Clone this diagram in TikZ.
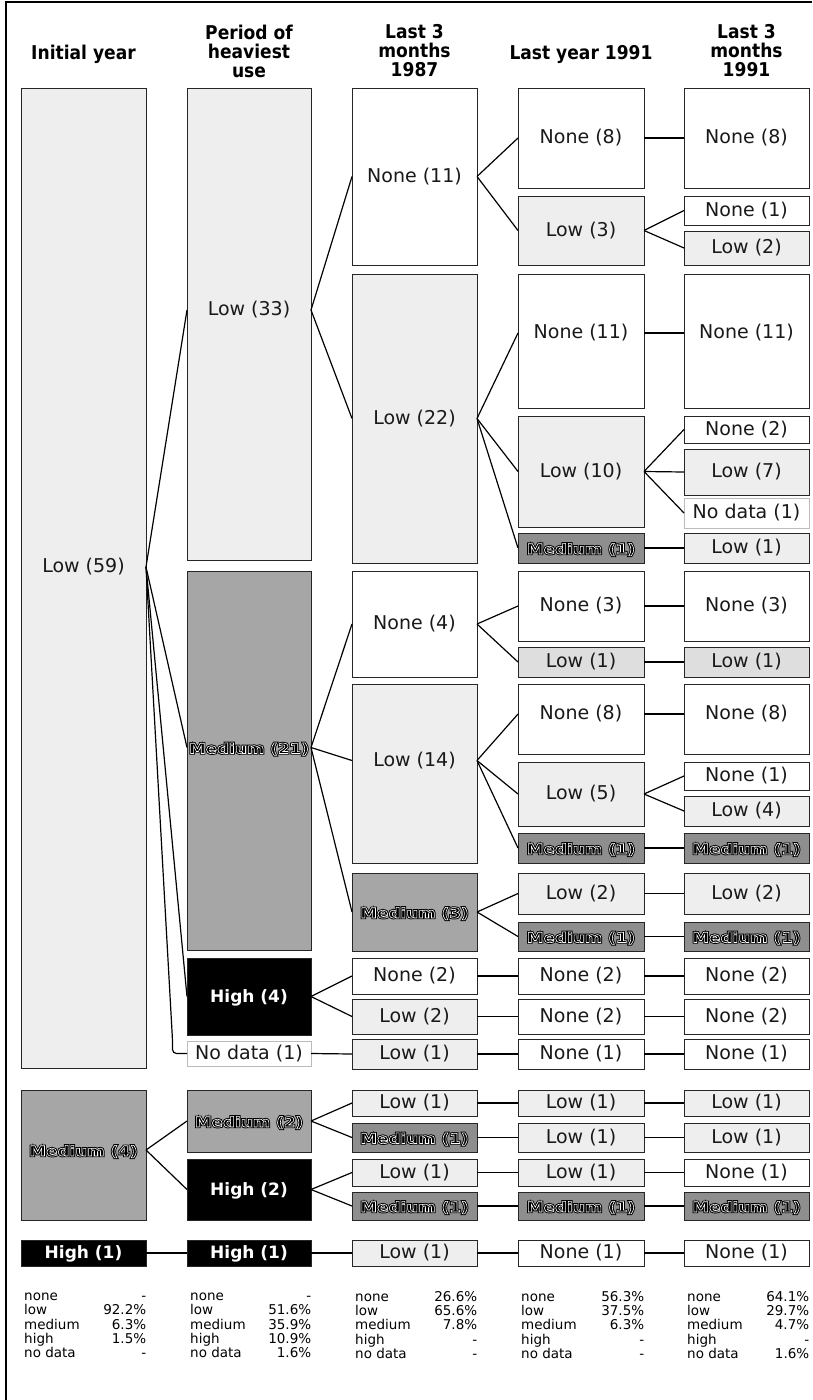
\documentclass[tikz,border=0pt]{standalone}
\usepackage{fontspec}
\setmainfont{DejaVu Sans}
\newfontfamily\medfont[FakeStretch=1.2]{DejaVu Sans}
\newfontfamily\hdfont[FakeStretch=0.9]{DejaVu Sans}
\definecolor{lowc}{HTML}{EEEEEE}
\definecolor{lowdc}{HTML}{DEDEDE}
\definecolor{medc}{HTML}{A6A6A6}
\definecolor{meddc}{HTML}{8E8E8E}
\definecolor{ndc}{HTML}{BBBBBB}
% double-outlined label: black core, white ring, black outer ring
\newcommand\medlab[1]{{\medfont\bfseries\fontsize{14}{15}\selectfont\color{black}%
  \rlap{\special{pdf:literal direct 0 g 2 Tr 2.5 w 0 G}#1}%
  \special{pdf:literal direct 0 g 2 Tr 0.6 w 1 G}#1\special{pdf:literal direct 0 Tr 0 G}}}
\newcommand\bx[8][0]{%
  \pgfmathsetmacro\tdp{2.5+2*#1}%
  \pgfmathsetmacro\bw{#5-#3}\pgfmathsetmacro\bh{#6-#4}%
  \pgfmathsetmacro\bxc{(#3+#5)/2}\pgfmathsetmacro\byc{(#4+#6)/2}%
  \node[#7,text height=14.4pt,text depth=\tdp pt,minimum width=\bw pt,minimum height=\bh pt] (#2) at (\bxc,\byc) {#8};}
\tikzset{
  box/.style={draw=black!85,line width=0.8pt,inner sep=0pt,outer sep=0pt,font=\fontsize{19}{20}\selectfont,text=black!90},
  lowb/.style={box,fill=lowc},
  lowd/.style={box,fill=lowdc},
  noneb/.style={box,fill=white},
  medb/.style={box,fill=medc},
  medd/.style={box,fill=meddc},
  highb/.style={box,fill=black,text=white,font=\bfseries\fontsize{17}{18}\selectfont},
  ndb/.style={box,fill=white,draw=ndc},
  conn/.style={line width=1.2pt,black},
  hdr/.style={font=\hdfont\bfseries\fontsize{19}{19}\selectfont,align=center,inner sep=0pt},
  stat/.style={anchor=north west,inner sep=0pt,font=\fontsize{13.5}{13.5}\selectfont}
}
\begin{document}
\begin{tikzpicture}[x=1pt,y=-1pt]
\useasboundingbox[fill=white] (0,0) rectangle (812,1400);
\draw[line width=2pt] (6,1400) -- (6,2) -- (812,2);
% headers
\node[hdr] (h1) at (83.5,54.2) {Initial year};
\node[hdr] (h2) at (249,51) {Period of\\heaviest\\use};
\node[hdr] (h3) at (414.5,51) {Last 3\\months\\1987};
\node[hdr] (h4) at (581,54.2) {Last year 1991};
\node[hdr] (h5) at (746.5,51) {Last 3\\months\\1991};
% column 1
\bx[11]{a1}{21}{88}{146}{1068}{lowb}{Low (59)}
\bx[5]{a2}{21}{1090}{146}{1220}{medb}{\medlab{Medium (4)}}
\bx{a3}{21}{1240}{146}{1266}{highb}{High (1)}
% column 2
\bx[14]{b1}{187}{88}{311}{560}{lowb}{Low (33)}
\bx[13]{b2}{187}{571}{311}{950}{medb}{\medlab{Medium (21)}}
\bx{b3}{187}{958}{311}{1035}{highb}{High (4)}
\bx{b4}{187}{1041}{311}{1066}{ndb}{No data (1)}
\bx{b5}{187}{1090}{311}{1152}{medb}{\medlab{Medium (2)}}
\bx{b6}{187}{1159}{311}{1220}{highb}{High (2)}
\bx{b7}{187}{1240}{311}{1266}{highb}{High (1)}
% column 3
\bx{c1}{352}{88}{477}{265}{noneb}{None (11)}
\bx{c2}{352}{274}{477}{563}{lowb}{Low (22)}
\bx{c3}{352}{571}{477}{677}{noneb}{None (4)}
\bx[13]{c4}{352}{684}{477}{863}{lowb}{Low (14)}
\bx{c5}{352}{873}{477}{951}{medb}{\medlab{Medium (3)}}
\bx{c6}{352}{958}{477}{994}{noneb}{None (2)}
\bx{c7}{352}{999}{477}{1034}{lowb}{Low (2)}
\bx{c8}{352}{1039}{477}{1069}{lowb}{Low (1)}
\bx{c9}{352}{1090}{477}{1116}{lowb}{Low (1)}
\bx{c10}{352}{1123}{477}{1152}{medd}{\medlab{Medium (1)}}
\bx{c11}{352}{1159}{477}{1186}{lowb}{Low (1)}
\bx{c12}{352}{1192}{477}{1220}{medd}{\medlab{Medium (1)}}
\bx{c13}{352}{1240}{477}{1266}{lowb}{Low (1)}
% column 4
\bx{d1}{518}{88}{644}{188}{noneb}{None (8)}
\bx{d2}{518}{196}{644}{265}{lowb}{Low (3)}
\bx[8]{d3}{518}{274}{644}{408}{noneb}{None (11)}
\bx{d4}{518}{416}{644}{527}{lowb}{Low (10)}
\bx{d5}{518}{533}{644}{563}{medd}{\medlab{Medium (1)}}
\bx{d6}{518}{571}{644}{641}{noneb}{None (3)}
\bx{d7}{518}{647}{644}{677}{lowd}{Low (1)}
\bx[5]{d8}{518}{684}{644}{754}{noneb}{None (8)}
\bx{d9}{518}{762}{644}{826}{lowb}{Low (5)}
\bx{d10}{518}{833}{644}{863}{medd}{\medlab{Medium (1)}}
\bx{d11}{518}{873}{644}{914}{lowb}{Low (2)}
\bx{d12}{518}{922}{644}{951}{medd}{\medlab{Medium (1)}}
\bx{d13}{518}{958}{644}{994}{noneb}{None (2)}
\bx{d14}{518}{999}{644}{1034}{noneb}{None (2)}
\bx{d15}{518}{1039}{644}{1069}{noneb}{None (1)}
\bx{d16}{518}{1090}{644}{1116}{lowb}{Low (1)}
\bx{d17}{518}{1123}{644}{1152}{lowb}{Low (1)}
\bx{d18}{518}{1159}{644}{1186}{lowb}{Low (1)}
\bx{d19}{518}{1192}{644}{1220}{medd}{\medlab{Medium (1)}}
\bx{d20}{518}{1240}{644}{1266}{noneb}{None (1)}
% column 5
\bx{e1}{684}{88}{809}{188}{noneb}{None (8)}
\bx{e2}{684}{196}{809}{225}{noneb}{None (1)}
\bx{e3}{684}{231}{809}{265}{lowb}{Low (2)}
\bx[8]{e4}{684}{274}{809}{408}{noneb}{None (11)}
\bx{e5}{684}{416}{809}{443}{noneb}{None (2)}
\bx{e6}{684}{449}{809}{495}{lowb}{Low (7)}
\bx{e7}{684}{498}{809}{528}{ndb}{No data (1)}
\bx{e8}{684}{533}{809}{563}{lowb}{Low (1)}
\bx{e9}{684}{571}{809}{641}{noneb}{None (3)}
\bx{e10}{684}{647}{809}{677}{lowd}{Low (1)}
\bx[5]{e11}{684}{684}{809}{754}{noneb}{None (8)}
\bx{e12}{684}{762}{809}{790}{noneb}{None (1)}
\bx{e13}{684}{796}{809}{826}{lowb}{Low (4)}
\bx{e14}{684}{833}{809}{863}{medd}{\medlab{Medium (1)}}
\bx{e15}{684}{873}{809}{914}{lowb}{Low (2)}
\bx{e16}{684}{922}{809}{951}{medd}{\medlab{Medium (1)}}
\bx{e17}{684}{958}{809}{994}{noneb}{None (2)}
\bx{e18}{684}{999}{809}{1034}{noneb}{None (2)}
\bx{e19}{684}{1039}{809}{1069}{noneb}{None (1)}
\bx{e20}{684}{1090}{809}{1116}{lowb}{Low (1)}
\bx{e21}{684}{1123}{809}{1152}{lowb}{Low (1)}
\bx{e22}{684}{1159}{809}{1186}{noneb}{None (1)}
\bx{e23}{684}{1192}{809}{1220}{medd}{\medlab{Medium (1)}}
\bx{e24}{684}{1240}{809}{1266}{noneb}{None (1)}
% connectors with shifted anchors
\draw[conn] ([yshift=11pt]a1.east) -- ([yshift=14pt]b1.west);
\draw[conn] ([yshift=11pt]a1.east) -- ([yshift=13pt]b2.west);
\draw[conn] ([yshift=11pt]a1.east) -- (b3.west);
\coordinate (ndk) at (172.5,1040);
\draw[conn,rounded corners=4pt] ([yshift=11pt]a1.east) -- (ndk) -- (ndk |- b4.west) -- (b4.west);
\draw[conn] ([yshift=14pt]b1.east) -- (c1.west);
\draw[conn] ([yshift=14pt]b1.east) -- (c2.west);
\draw[conn] ([yshift=13pt]b2.east) -- (c3.west);
\draw[conn] ([yshift=13pt]b2.east) -- ([yshift=13pt]c4.west);
\draw[conn] ([yshift=13pt]b2.east) -- (c5.west);
\draw[conn] (c2.east) -- ([yshift=8pt]d3.west);
\draw[conn] ([yshift=8pt]d3.east) -- ([yshift=8pt]e4.west);
\draw[conn] ([yshift=13pt]c4.east) -- ([yshift=5pt]d8.west);
\draw[conn] ([yshift=13pt]c4.east) -- (d9.west);
\draw[conn] ([yshift=13pt]c4.east) -- (d10.west);
\draw[conn] ([yshift=5pt]d8.east) -- ([yshift=5pt]e11.west);
\draw[conn] ([yshift=5pt]a2.east) -- (b5.west);
\draw[conn] ([yshift=5pt]a2.east) -- (b6.west);
% plain connectors
\foreach \p/\q in {a3/b7,b3/c6,b3/c7,b4/c8,c1/d1,c1/d2,c2/d4,c2/d5,c3/d6,c3/d7,c5/d11,c5/d12,c6/d13,c7/d14,c8/d15,b5/c9,b5/c10,b6/c11,b6/c12,c9/d16,c10/d17,c11/d18,c12/d19,b7/c13,c13/d20,d1/e1,d2/e2,d2/e3,d4/e5,d4/e6,d4/e7,d5/e8,d6/e9,d7/e10,d9/e12,d9/e13,d10/e14,d11/e15,d12/e16,d13/e17,d14/e18,d15/e19,d16/e20,d17/e21,d18/e22,d19/e23,d20/e24}
  \draw[conn] (\p.east) -- (\q.west);
% statistics
\node[stat] (s1) at (24,1291) {\begin{tabular*}{122pt}{@{}l@{\extracolsep{\fill}}r@{}}none&-\\low&92.2\%\\medium&6.3\%\\high&1.5\%\\no data&-\end{tabular*}};
\node[stat] (s2) at (190,1291) {\begin{tabular*}{121pt}{@{}l@{\extracolsep{\fill}}r@{}}none&-\\low&51.6\%\\medium&35.9\%\\high&10.9\%\\no data&1.6\%\end{tabular*}};
\node[stat] (s3) at (355,1291) {\begin{tabular*}{122pt}{@{}l@{\extracolsep{\fill}}r@{}}none&26.6\%\\low&65.6\%\\medium&7.8\%\\high&-\\no data&-\end{tabular*}};
\node[stat] (s4) at (521,1291) {\begin{tabular*}{123pt}{@{}l@{\extracolsep{\fill}}r@{}}none&56.3\%\\low&37.5\%\\medium&6.3\%\\high&-\\no data&-\end{tabular*}};
\node[stat] (s5) at (687,1291) {\begin{tabular*}{122pt}{@{}l@{\extracolsep{\fill}}r@{}}none&64.1\%\\low&29.7\%\\medium&4.7\%\\high&-\\no data&1.6\%\end{tabular*}};
\end{tikzpicture}
\end{document}
